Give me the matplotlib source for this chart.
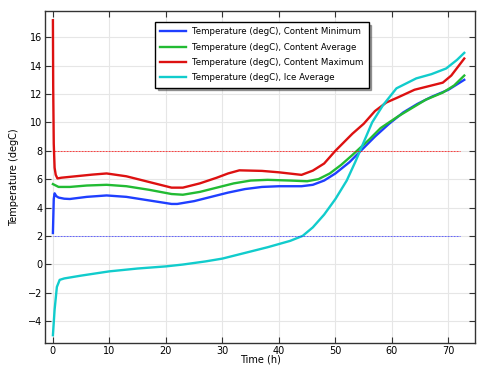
import numpy as np
import matplotlib.pyplot as plt

# values
t_min = [0, 0.15, 0.3, 0.6, 1, 2, 3, 6, 9.5, 13, 17, 21, 22, 25, 28, 31, 34, 37, 40, 44, 46, 48, 50,
         52.5, 54.5, 57, 59.5, 62, 64.5, 67, 70, 72.8]
temp_min = [2.2, 4.6, 5.0, 4.8, 4.7, 4.62, 4.6, 4.75, 4.85, 4.75, 4.5, 4.25, 4.25, 4.45, 4.75, 5.05, 5.3,
            5.45, 5.5, 5.5, 5.6, 5.9, 6.4, 7.2, 8.0, 9.0, 9.9, 10.7, 11.3, 11.8, 12.3, 13.0]

t_avg = [0, 1, 3, 6, 9.5, 13, 17, 21, 23, 26, 29, 32, 35, 38, 42, 45, 47, 49, 51, 53, 56, 58, 61,
         63.5, 66, 69, 71, 72.8]
temp_avg = [5.65, 5.45, 5.45, 5.55, 5.6, 5.5, 5.25, 4.95, 4.9, 5.1, 5.4, 5.7, 5.9, 5.95, 5.9, 5.85,
            6.0, 6.4, 7.0, 7.7, 8.8, 9.6, 10.4, 11.0, 11.6, 12.1, 12.6, 13.3]

t_max = [0, 0.05, 0.15, 0.3, 0.5, 0.8, 1.5, 4, 7, 9.5, 13, 17, 21, 23, 26, 29, 31, 33, 37, 40, 44,
         46, 48, 50, 53, 55, 57, 59, 61, 64, 67, 69, 70.5, 72.8]
temp_max = [17.2, 12.5, 8.5, 6.8, 6.3, 6.05, 6.1, 6.2, 6.32, 6.4, 6.2, 5.8, 5.4, 5.4, 5.7, 6.1, 6.4,
            6.62, 6.58, 6.48, 6.3, 6.6, 7.1, 8.0, 9.2, 9.9, 10.8, 11.4, 11.75, 12.3, 12.6, 12.8, 13.3,
            14.5]

t_ice = [0, 0.3, 0.7, 1.2, 2, 5, 10, 15, 20, 23, 27, 30, 34, 38, 42, 44.2, 46, 48, 50, 52, 53.5,
         55, 56.5, 58.4, 60.8, 64.3, 67, 69.6, 71.5, 72.8]
temp_ice = [-5.0, -3.2, -1.6, -1.1, -1.0, -0.8, -0.5, -0.3, -0.15, -0.02, 0.2, 0.4, 0.8, 1.2, 1.65,
            2.0, 2.6, 3.5, 4.6, 5.9, 7.2, 8.6, 10.0, 11.2, 12.4, 13.1, 13.4, 13.8, 14.4, 14.9]

limit_t = [0, 72]
limit_upper = 8
limit_lower = 2

labels = ["Temperature (degC), Content Minimum", "Temperature (degC), Content Average",
          "Temperature (degC), Content Maximum", "Temperature (degC), Ice Average"]
colors = ["#1f3fff", "#22bb33", "#dd1111", "#11cccc"]

plt.rcParams['font.family'] = ['DejaVu Sans']
plt.rcParams['font.size'] = 7

fig = plt.figure(figsize=(4.79, 3.66), dpi=100)
ax = fig.add_axes([45 / 479, 23 / 366, 430 / 479, 332 / 366])

series = [(t_min, temp_min), (t_avg, temp_avg), (t_max, temp_max), (t_ice, temp_ice)]
for (t, v), c, lab in zip(series, colors, labels):
    ax.plot(t, v, color=c, lw=1.7, label=lab)

ax.plot(limit_t, [limit_upper] * 2, color="red", lw=0.6, ls=(0, (1, 0.8)))
ax.plot(limit_t, [limit_lower] * 2, color="#3333ff", lw=0.6, ls=(0, (1, 0.8)))

ax.set_xlim(-1.4, 74.7)
ax.set_ylim(-5.55, 17.85)
ax.set_xticks(np.arange(0, 71, 10))
ax.set_yticks(np.arange(-4, 17, 2))
ax.grid(True, color="#e6e6e6", lw=0.8)
ax.set_axisbelow(True)
ax.tick_params(direction="in", top=True, right=True, length=4, color="#333333", pad=2)
for s in ax.spines.values():
    s.set_color("#333333")
    s.set_linewidth(1.0)

ax.set_xlabel("Time (h)", labelpad=-1)
ax.set_ylabel("Temperature (degC)", labelpad=6)

leg = ax.legend(loc="upper left", bbox_to_anchor=(0.256, 0.967), borderaxespad=0,
                fancybox=False, shadow=True, framealpha=1, edgecolor="black",
                handlelength=3.0, handletextpad=0.7, borderpad=0.6, labelspacing=0.75,
                fontsize=6.2)
leg.get_frame().set_linewidth(1.0)

fig.savefig("out.png", dpi=100)
